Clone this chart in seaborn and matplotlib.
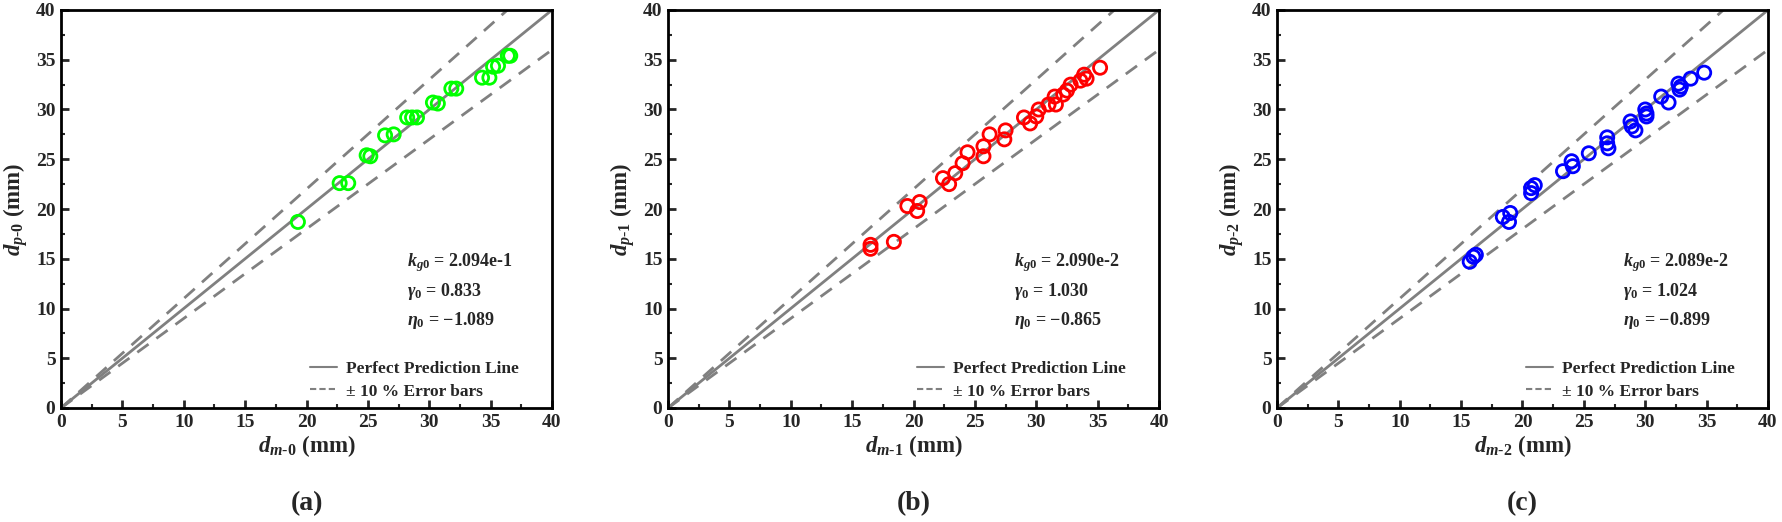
import numpy as np
import pandas as pd
import matplotlib
matplotlib.use("Agg")
import matplotlib.pyplot as plt
import seaborn as sns
from matplotlib.lines import Line2D

# ---------------- data ----------------
dm0 = [19.3, 22.7, 23.4, 24.9, 25.2, 26.4, 27.1, 28.2, 28.6, 29.0, 30.3, 30.7,
       31.8, 32.2, 34.3, 34.9, 35.2, 35.6, 36.4, 36.6]
dp0 = [18.7, 22.6, 22.6, 25.4, 25.3, 27.4, 27.5, 29.2, 29.2, 29.2, 30.7, 30.6,
       32.1, 32.1, 33.2, 33.2, 34.3, 34.4, 35.4, 35.4]

dm1 = [16.5, 16.5, 18.4, 19.5, 20.3, 20.5, 22.4, 22.9, 23.4, 24.0, 24.4, 25.7,
       25.7, 26.2, 27.4, 27.5, 29.0, 29.5, 30.0, 30.2, 31.0, 31.5, 31.6, 32.2,
       32.5, 32.8, 33.6, 33.9, 34.1, 35.2]
dp1 = [16.4, 16.0, 16.7, 20.3, 19.8, 20.7, 23.1, 22.5, 23.6, 24.6, 25.7, 25.3,
       26.3, 27.5, 27.0, 27.9, 29.2, 28.6, 29.3, 30.0, 30.5, 31.3, 30.5, 31.5,
       31.9, 32.5, 32.9, 33.5, 33.1, 34.2]

dm2 = [15.7, 16.0, 16.2, 18.4, 19.0, 18.9, 20.7, 21.0, 20.7, 23.3, 24.0, 24.1,
       25.4, 26.9, 26.9, 27.0, 28.8, 28.9, 29.2, 30.0, 30.1, 30.1, 31.3, 31.9,
       32.7, 32.9, 32.8, 33.7, 34.8]
dp2 = [14.7, 15.2, 15.4, 19.2, 19.6, 18.7, 21.6, 22.4, 22.1, 23.8, 24.8, 24.3,
       25.6, 27.2, 26.6, 26.1, 28.8, 28.3, 27.9, 30.0, 29.6, 29.3, 31.3, 30.7,
       32.6, 32.3, 32.0, 33.1, 33.7]

panel_tags = ["(a)", "(b)", "(c)"]
xlabels = [r"$d_{\mathit{m}\text{-}\mathit{0}}$ (mm)", r"$d_{\mathit{m}\text{-}\mathit{1}}$ (mm)",
           r"$d_{\mathit{m}\text{-}\mathit{2}}$ (mm)"]
ylabels = [r"$d_{\mathit{p}\text{-}\mathit{0}}$ (mm)", r"$d_{\mathit{p}\text{-}\mathit{1}}$ (mm)",
           r"$d_{\mathit{p}\text{-}\mathit{2}}$ (mm)"]
kg0_vals = ["2.094e-1", "2.090e-2", "2.089e-2"]
gamma_vals = ["0.833", "1.030", "1.024"]
eta_vals = ["\u22121.089", "\u22120.865", "\u22120.899"]
colors = ["#00FF00", "#FF0000", "#0000FF"]
legend_labels = ["Perfect Prediction Line", "\u00b1 10 % Error bars"]
axis_limit = 40
error_frac = 0.10
ticks = [0, 5, 10, 15, 20, 25, 30, 35, 40]

# ---------------- style ----------------
sns.set_theme(style="white")
plt.rcParams["font.family"] = ["Liberation Serif", "DejaVu Serif"]
plt.rcParams["font.weight"] = "bold"
plt.rcParams["axes.labelweight"] = "bold"
plt.rcParams["mathtext.fontset"] = "custom"
plt.rcParams["mathtext.it"] = "Liberation Serif:bold:italic"
plt.rcParams["mathtext.rm"] = "Liberation Serif:bold"
plt.rcParams["mathtext.bf"] = "Liberation Serif:bold"

W, H = 1783, 522
fig = plt.figure(figsize=(W / 100, H / 100), dpi=100)
lefts = [61, 668, 1277]
ax_w, ax_top, ax_bot = 491, 10, 408

datasets = [(dm0, dp0), (dm1, dp1), (dm2, dp2)]
ref_x = np.array([0, axis_limit], dtype=float)
grey = "#808080"
dash = (0, (5, 3.5))

for i, (xm, yp) in enumerate(datasets):
    ax = fig.add_axes([lefts[i] / W, (H - ax_bot) / H, ax_w / W, (ax_bot - ax_top) / H])
    df = pd.DataFrame({"m": xm, "p": yp})
    # reference lines
    sns.lineplot(x=ref_x, y=ref_x, ax=ax, color=grey, lw=2, zorder=1)
    sns.lineplot(x=ref_x, y=ref_x * (1 + error_frac), ax=ax, color=grey, lw=2,
                 linestyle=dash, zorder=1)
    sns.lineplot(x=ref_x, y=ref_x * (1 - error_frac), ax=ax, color=grey, lw=2,
                 linestyle=dash, zorder=1)
    sns.scatterplot(data=df, x="m", y="p", ax=ax, marker="o", s=90,
                    facecolor="none", edgecolor=colors[i], linewidth=2.0, zorder=3)
    ax.set_xlim(0, axis_limit)
    ax.set_ylim(0, axis_limit)
    ax.set_xticks(ticks)
    ax.set_yticks(ticks)
    ax.set_xticks(np.arange(2.5, 40, 5), minor=True)
    ax.set_yticks(np.arange(2.5, 40, 5), minor=True)
    ax.tick_params(which="major", direction="in", length=6, width=2,
                   labelsize=14, bottom=True, left=True, top=False, right=False, pad=4)
    ax.tick_params(which="minor", direction="in", length=3, width=1.5,
                   bottom=True, left=True, top=False, right=False)
    for lab in ax.get_xticklabels() + ax.get_yticklabels():
        lab.set_fontweight("bold")
    for sp in ax.spines.values():
        sp.set_linewidth(2)
        sp.set_color("black")
    ax.set_xlabel(xlabels[i], fontsize=16.5, labelpad=2)
    ax.set_ylabel(ylabels[i], fontsize=16.5, labelpad=4)

    ax.text(28.2, 14.6, r"$k_{g0}$" + " = " + kg0_vals[i], fontsize=13,
            fontweight="bold", va="center", ha="left")
    ax.text(28.2, 11.7, r"$\gamma_{0}$" + " = " + gamma_vals[i], fontsize=13,
            fontweight="bold", va="center", ha="left")
    ax.text(28.2, 8.8, r"$\eta_{0}$" + " = " + eta_vals[i], fontsize=13,
            fontweight="bold", va="center", ha="left")

    handles = [Line2D([], [], color=grey, lw=1.5),
               Line2D([], [], color=grey, lw=1.5, linestyle=(0, (3, 1.5)))]
    leg = ax.legend(handles, legend_labels, loc="lower left",
                    bbox_to_anchor=(0.485, -0.005), frameon=False, fontsize=12.5,
                    handlelength=1.6, handletextpad=0.5, labelspacing=0.35,
                    borderaxespad=0.2)
    for t in leg.get_texts():
        t.set_fontweight("bold")

    ax.text(0.5, -0.21, panel_tags[i], transform=ax.transAxes, ha="center",
            va="top", fontsize=20, fontweight="bold")

fig.savefig("out.png", dpi=100)
